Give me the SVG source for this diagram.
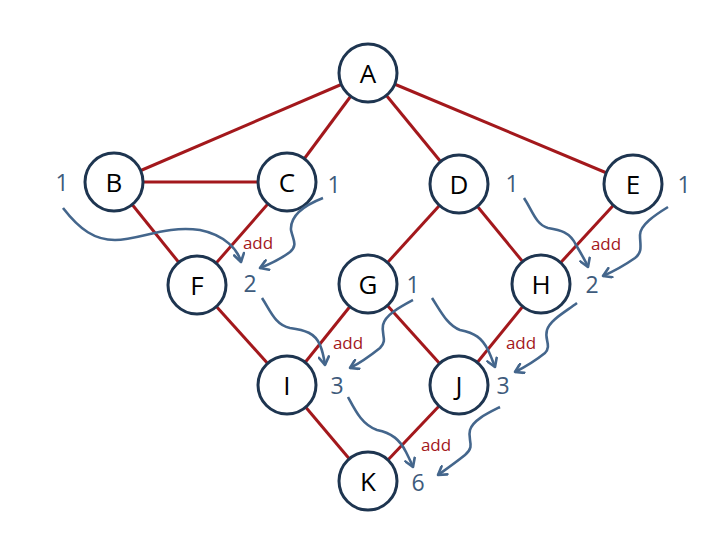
<svg xmlns="http://www.w3.org/2000/svg" width="720" height="540" viewBox="0 0 720 540">
<defs>
<marker id="ah" viewBox="0 0 12 12" refX="10" refY="6" markerWidth="12" markerHeight="12" markerUnits="userSpaceOnUse" orient="auto">
<path d="M2,1 L10,6 L2,11" fill="none" stroke="#44668c" stroke-width="2.6" stroke-linecap="round" stroke-linejoin="round"/>
</marker>
</defs>
<style>
.edge{stroke:#a3181c;stroke-width:3;fill:none}
.node circle{fill:#fff;stroke:#1e3550;stroke-width:3}
.node text{font-family:"Open Sans","Liberation Sans",sans-serif;font-size:26px;fill:#000;text-anchor:middle;dominant-baseline:central}
.num{font-family:"Open Sans","Liberation Sans",sans-serif;font-size:23px;fill:#3e5b7c;text-anchor:middle;dominant-baseline:central}
.add{font-family:"Open Sans","Liberation Sans",sans-serif;font-size:17px;fill:#a3181c;text-anchor:middle;dominant-baseline:central}
.flow{stroke:#44668c;stroke-width:2.6;fill:none;marker-end:url(#ah)}
</style>
<rect width="720" height="540" fill="#fff"/>
<g id="edges">
<line class="edge" x1="368" y1="73" x2="114" y2="182"/>
<line class="edge" x1="368" y1="73" x2="287" y2="182"/>
<line class="edge" x1="368" y1="73" x2="459" y2="184"/>
<line class="edge" x1="368" y1="73" x2="633" y2="184"/>
<line class="edge" x1="114" y1="182" x2="287" y2="182"/>
<line class="edge" x1="114" y1="182" x2="197" y2="285"/>
<line class="edge" x1="287" y1="182" x2="197" y2="285"/>
<line class="edge" x1="459" y1="184" x2="368" y2="284"/>
<line class="edge" x1="459" y1="184" x2="541" y2="284"/>
<line class="edge" x1="633" y1="184" x2="541" y2="284"/>
<line class="edge" x1="197" y1="285" x2="287" y2="385"/>
<line class="edge" x1="368" y1="284" x2="287" y2="385"/>
<line class="edge" x1="368" y1="284" x2="459" y2="385"/>
<line class="edge" x1="541" y1="284" x2="459" y2="385"/>
<line class="edge" x1="287" y1="385" x2="368" y2="481"/>
<line class="edge" x1="459" y1="385" x2="368" y2="481"/>
</g>
<g id="nodeA" class="node"><circle cx="368" cy="73" r="29"/><text x="368" y="73">A</text></g>
<g id="nodeB" class="node"><circle cx="114" cy="182" r="29"/><text x="114" y="182">B</text></g>
<g id="nodeC" class="node"><circle cx="287" cy="182" r="29"/><text x="287" y="182">C</text></g>
<g id="nodeD" class="node"><circle cx="459" cy="184" r="29"/><text x="459" y="184">D</text></g>
<g id="nodeE" class="node"><circle cx="633" cy="184" r="29"/><text x="633" y="184">E</text></g>
<g id="nodeF" class="node"><circle cx="197" cy="285" r="29"/><text x="197" y="285">F</text></g>
<g id="nodeG" class="node"><circle cx="368" cy="284" r="29"/><text x="368" y="284">G</text></g>
<g id="nodeH" class="node"><circle cx="541" cy="284" r="29"/><text x="541" y="284">H</text></g>
<g id="nodeI" class="node"><circle cx="287" cy="385" r="29"/><text x="287" y="385">I</text></g>
<g id="nodeJ" class="node"><circle cx="459" cy="385" r="29"/><text x="459" y="385">J</text></g>
<g id="nodeK" class="node"><circle cx="368" cy="481" r="29"/><text x="368" y="481">K</text></g>
<g id="values">
<text class="num" x="62" y="182">1</text>
<text class="num" x="334" y="184">1</text>
<text class="num" x="512" y="183">1</text>
<text class="num" x="684" y="184">1</text>
<text class="num" x="250" y="283">2</text>
<text class="num" x="413" y="284">1</text>
<text class="num" x="592" y="284">2</text>
<text class="num" x="337" y="385">3</text>
<text class="num" x="503" y="385">3</text>
<text class="num" x="418" y="482">6</text>
</g>
<g id="ops">
<text class="add" x="258" y="242">add</text>
<text class="add" x="606" y="243">add</text>
<text class="add" x="348" y="342">add</text>
<text class="add" x="521" y="342">add</text>
<text class="add" x="436" y="444">add</text>
</g>
<g id="flows">
<path class="flow" d="M63,208 C80,230 95,240 115,240 C140,240 165,225 200,230 C225,235 238,250 241,262"/>
<path class="flow" d="M323,198 C305,205 290,215 291,230 C293,240 298,245 290,252 C282,258 270,264 260,268"/>
<path class="flow" d="M524,198 C532,210 536,225 548,228 C560,230 570,232 576,245 C582,255 586,262 588,267"/>
<path class="flow" d="M668,207 C655,215 640,225 640,235 C640,245 643,252 635,258 C625,265 612,272 603,276"/>
<path class="flow" d="M262,298 C270,310 275,325 290,328 C305,330 315,333 320,345 C323,352 324,358 325,365"/>
<path class="flow" d="M413,300 C400,307 385,315 383,325 C381,335 388,340 380,348 C370,356 360,363 350,368"/>
<path class="flow" d="M432,298 C440,310 447,325 460,330 C475,333 482,338 488,350 C491,356 493,362 495,367"/>
<path class="flow" d="M577,303 C565,312 550,320 547,330 C544,340 552,345 545,353 C535,361 525,367 515,372"/>
<path class="flow" d="M348,397 C355,410 362,425 377,430 C392,433 400,440 406,452 C409,458 411,462 413,467"/>
<path class="flow" d="M500,407 C488,413 473,420 470,430 C467,440 476,446 465,455 C455,463 445,470 438,475"/>
</g>
</svg>
